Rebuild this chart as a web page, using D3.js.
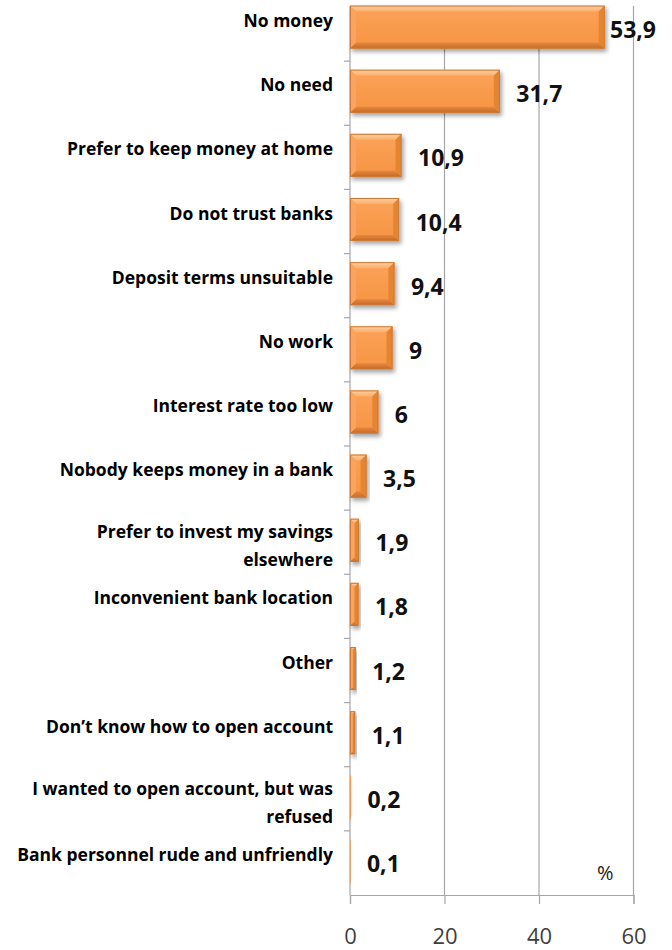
<!DOCTYPE html>
<html>
<head>
<meta charset="utf-8">
<script src="https://cdn.jsdelivr.net/npm/d3@7"></script>
<style>
  html, body { margin: 0; padding: 0; background: #fff; }
  svg { display: block; }
</style>
</head>
<body>
<div id="chart"></div>
<script>
// Reasons for not keeping money in a bank, share of respondents (%)
const categories = [
  "No money",
  "No need",
  "Prefer to keep money at home",
  "Do not trust banks",
  "Deposit terms unsuitable",
  "No work",
  "Interest rate too low",
  "Nobody keeps money in a bank",
  "Prefer to invest my savings|elsewhere",
  "Inconvenient bank location",
  "Other",
  "Don\u2019t know how to open account",
  "I wanted to open account, but was|refused",
  "Bank personnel rude and unfriendly"
];
const values = [53.9, 31.7, 10.9, 10.4, 9.4, 9, 6, 3.5, 1.9, 1.8, 1.2, 1.1, 0.2, 0.1];
const valueLabels = ["53,9", "31,7", "10,9", "10,4", "9,4", "9", "6", "3,5", "1,9", "1,8", "1,2", "1,1", "0,2", "0,1"];
const xTicks = [0, 20, 40, 60];
const unitLabel = "%";

const W = 672, H = 950;
const plot = { left: 350, right: 633.5, top: 6, bottom: 895 };
const font = "'Open Sans', 'Noto Sans', sans-serif";

const svg = d3.select("#chart").append("svg")
  .attr("width", W).attr("height", H);

const defs = svg.append("defs");

// soft drop shadow under each bar
const shadow = defs.append("filter").attr("id", "barShadow")
  .attr("x", "-20%").attr("y", "-30%").attr("width", "140%").attr("height", "170%");
shadow.append("feDropShadow")
  .attr("dx", 2).attr("dy", 3).attr("stdDeviation", 2)
  .attr("flood-color", "#000").attr("flood-opacity", 0.35);

function vGrad(id, stops) {
  const g = defs.append("linearGradient").attr("id", id)
    .attr("x1", 0).attr("y1", 0).attr("x2", 0).attr("y2", 1);
  stops.forEach(([o, c]) => g.append("stop").attr("offset", o).attr("stop-color", c));
}
vGrad("faceGrad", [[0, "#FBA35A"], [0.5, "#F99B4D"], [1, "#F59545"]]);
vGrad("topGrad", [[0, "#FDD2A6"], [1, "#FBAE6C"]]);
vGrad("botGrad", [[0, "#E9873A"], [1, "#C06A28"]]);

const x = d3.scaleLinear().domain([0, 60]).range([plot.left, plot.right]);
const y = d3.scaleBand().domain(d3.range(categories.length))
  .range([-3, plot.bottom]).paddingInner(0).paddingOuter(0);
const barH = 43;

// vertical gridlines
svg.append("g").selectAll("line")
  .data(xTicks.filter(t => t > 0))
  .join("line")
  .attr("x1", d => x(d)).attr("x2", d => x(d))
  .attr("y1", plot.top).attr("y2", plot.bottom)
  .attr("stroke", "#A6A6A6").attr("stroke-width", 1.2);

// bottom axis
const xAxis = d3.axisBottom(x).tickValues(xTicks).tickSize(9).tickPadding(24)
  .tickFormat(d3.format("d"));
const gx = svg.append("g").attr("transform", `translate(0,${plot.bottom})`).call(xAxis);
gx.select(".domain").attr("stroke", "#A6A6A6").attr("stroke-width", 1.2);
gx.selectAll(".tick line").attr("stroke", "#A6A6A6").attr("stroke-width", 1.2);
gx.selectAll(".tick text")
  .attr("font-family", font).attr("font-size", 22).attr("fill", "#3f3f3f");

// left axis line with category separators
const gy = svg.append("g");
gy.append("line")
  .attr("x1", plot.left).attr("x2", plot.left)
  .attr("y1", plot.top).attr("y2", plot.bottom)
  .attr("stroke", "#A6A6A6").attr("stroke-width", 1.2);
gy.selectAll("line.sep")
  .data(d3.range(1, categories.length))
  .join("line").attr("class", "sep")
  .attr("x1", plot.left - 6).attr("x2", plot.left)
  .attr("y1", d => y(d)).attr("y2", d => y(d))
  .attr("stroke", "#A6A6A6").attr("stroke-width", 1.2);

// bevelled bars
const bars = svg.append("g").selectAll("g.bar")
  .data(values.map((v, i) => ({ v, i })))
  .join("g").attr("class", "bar")
  .attr("filter", "url(#barShadow)");

bars.each(function (d) {
  const g = d3.select(this);
  const x0 = x(0), x1 = x(d.v);
  const w = x1 - x0;
  if (w <= 0.3) return;
  const y0 = y(d.i) + (y.bandwidth() - barH) / 2 - 2;
  const y1 = y0 + barH;
  const b = Math.min(6, w / 2);
  g.append("rect").attr("x", x0).attr("y", y0).attr("width", w).attr("height", barH)
    .attr("fill", "url(#faceGrad)");
  // top bevel
  g.append("path")
    .attr("d", `M${x0},${y0}L${x1},${y0}L${x1 - b},${y0 + b}L${x0 + b},${y0 + b}Z`)
    .attr("fill", "url(#topGrad)");
  // bottom bevel
  g.append("path")
    .attr("d", `M${x0},${y1}L${x1},${y1}L${x1 - b},${y1 - b}L${x0 + b},${y1 - b}Z`)
    .attr("fill", "url(#botGrad)");
  // right bevel
  g.append("path")
    .attr("d", `M${x1},${y0}L${x1},${y1}L${x1 - b},${y1 - b}L${x1 - b},${y0 + b}Z`)
    .attr("fill", "#E58533");
  // left bevel
  g.append("path")
    .attr("d", `M${x0},${y0}L${x0},${y1}L${x0 + b},${y1 - b}L${x0 + b},${y0 + b}Z`)
    .attr("fill", "#F9A460");
  g.append("rect").attr("x", x0 + 0.5).attr("y", y0 + 0.5)
    .attr("width", Math.max(0, w - 1)).attr("height", barH - 1)
    .attr("fill", "none").attr("stroke", "#CD7A36").attr("stroke-width", 1);
});

// value labels, kept inside the chart at the right edge
const vl = svg.append("g").selectAll("text")
  .data(values.map((v, i) => ({ v, i })))
  .join("text")
  .attr("font-family", font).attr("font-weight", 700).attr("font-size", 23)
  .attr("fill", "#111")
  .attr("dominant-baseline", "central")
  .attr("y", d => y(d.i) + y.bandwidth() / 2)
  .text(d => valueLabels[d.i]);
vl.attr("x", function (d) {
  const len = this.getComputedTextLength();
  return Math.min(x(d.v) + 16.5, 656 - len);
});

// category labels (| marks a line break)
const cl = svg.append("g").selectAll("text")
  .data(categories.map((c, i) => ({ lines: c.split("|"), i })))
  .join("text")
  .attr("font-family", font).attr("font-weight", 700).attr("font-size", 17.5)
  .attr("fill", "#000").attr("text-anchor", "end");
cl.each(function (d) {
  const t = d3.select(this);
  const cy = y(d.i) + y.bandwidth() / 2;
  const lh = 28;
  const first = d.lines.length === 1 ? cy - 9 : cy + 3 - lh / 2 * (d.lines.length - 1);
  d.lines.forEach((ln, k) => {
    t.append("tspan").attr("x", 333).attr("y", first + k * lh)
      .attr("dominant-baseline", "central").text(ln);
  });
});

// unit label
svg.append("text")
  .attr("x", x(54)).attr("y", 872)
  .attr("font-family", font).attr("font-size", 20).attr("fill", "#222")
  .attr("text-anchor", "middle").attr("dominant-baseline", "central")
  .text(unitLabel);
</script>
</body>
</html>
